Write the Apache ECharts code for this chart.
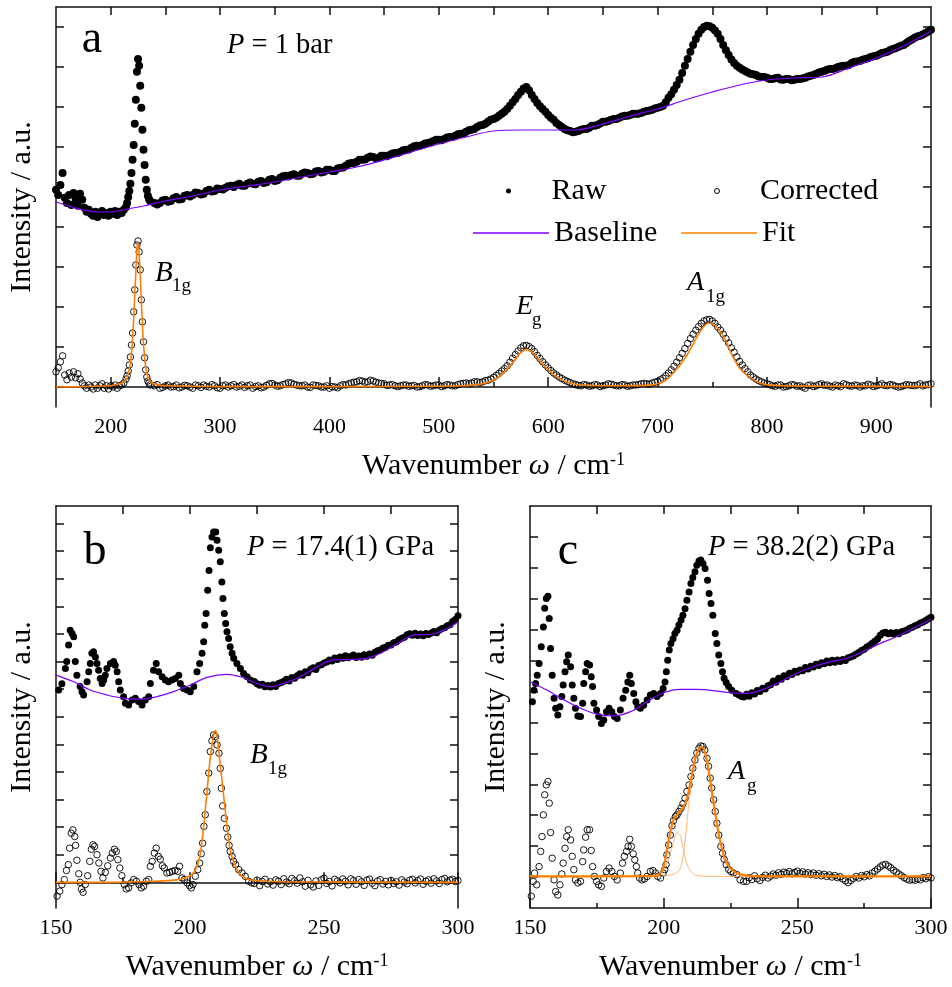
<!DOCTYPE html>
<html><head><meta charset="utf-8">
<script src="https://cdn.jsdelivr.net/npm/echarts@6/dist/echarts.min.js"></script>
<style>html,body{margin:0;padding:0;background:#fff}#c{width:952px;height:987px}</style>
</head><body><div id="c"></div>
<script>
// ---------------- DATA ----------------
// Panel a (P = 1 bar): [wavenumber, intensity] ; y in arbitrary units (ticks every 10)
const aRaw = [[150,49.3],[152,48],[154,50.5],[156,53.5],[158,47.3],[160,46],[162,48],[164,45.5],[166,48.5],[168,46.8],[170,45.3],[172,48.3],[174,46.8],[176,44.8],[178,43.8],[180,44.3],[182,43.3],[184,42.8],[186,43.8],[188,42.5],[190,43.3],[192,44],[194,43],[196,43.5],[198,42.8],[200,43.8],[202,43.3],[204,44],[206,43],[208,43.8],[210,43.5],[212,44.3],
[214,45],[215,46],[216,47.5],[217,49],[218,50.8],[219,53.5],[220,56.8],[221,60.5],[222,65.8],[223,71.8],[224,78.8],[225,82],[226,80.3],[227,75.3],[228,69.8],[229,64.3],[230,59.3],[231,55.5],[232,51.8],[233,49.3],[234,47.8],[235,47],[236,46.5],
[240,46],[245,46],[250,46.8],[255,46.5],[260,47.5],[265,47],[270,48],[275,48],[280,48.5],[285,48.3],[290,49.3],[295,49],[300,49.5],[305,49.8],[310,50.3],[315,50.5],[320,50.3],[325,50.8],[330,50.8],[335,51.3],[340,51],[345,51.8],[350,51.5],[355,52.3],[360,52.8],[365,53],[370,52.8],[375,53.3],[380,53.5],[385,53.3],[390,54],[395,53.8],[400,54.3],[405,54],[410,54.8],[415,55.3],[420,56],[425,56.3],[430,56.8],[435,57.3],[440,57.5],[445,57.3],[450,57.8],[455,58],[460,58.5],[465,58.8],[470,59.3],[475,59.8],[480,60.3],[485,60.5],[490,61],[495,61.5],[500,61.8],[505,62],[510,62.5],[515,62.8],[520,63.3],[525,63.8],[530,64.3],[535,65],[540,65.5],[545,66.3],[550,67],[555,67.8],[560,68.8],[565,70.3],[570,72],[575,73.8],[580,75],[585,73],[590,71],[595,69.5],[600,68],[605,66.8],[610,65.5],[615,64.5],[620,64],[625,63.8],[630,64.3],[635,64.5],[640,65.3],[645,65.5],[650,66.3],[655,66.5],[660,67],[665,67.3],[670,67.8],[675,68],[680,68.3],[685,68.5],[690,69],[695,69.3],[700,69.8],[705,70.3],[710,72.3],[715,74.3],[720,76.8],[725,80.3],[730,83.8],[735,87],[740,89.3],[745,90.3],[750,89.8],[755,88.3],[760,85.5],[765,83],[770,81],[775,79.8],[780,79],[785,78.3],[790,78],[795,77.5],[800,77.3],[805,77],[810,77.3],[815,76.8],[820,77],[825,76.8],[830,77],[835,77.3],[840,77.8],[845,78.3],[850,78.8],[855,79.3],[860,79.5],[865,80],[870,80.3],[875,80.5],[880,81.3],[885,81.5],[890,82],[895,82.5],[900,82.8],[905,83.5],[910,83.8],[915,84.5],[920,85],[925,85.5],[930,86.5],[935,87.3],[940,87.8],[945,88.5],[950,89.3]];
const aRawMid = [[242.5,45.6],[247.5,46.6],[252.5,46.3],[257.5,47.2],[262.5,46.9],[267.5,47.8],[272.5,47.6],[277.5,48.6],[282.5,48.1],[287.5,49],[292.5,48.9],[297.5,49.6],[302.5,49.4],[307.5,50.2],[312.5,50],[317.5,50.8],[322.5,50.3],[327.5,51.1],[332.5,50.7],[337.5,51.5],[342.5,51.2],[347.5,52],[352.5,51.7],[357.5,52.7],[362.5,52.6],[367.5,53.2],[372.5,52.8],[377.5,53.6],[382.5,53.2],[387.5,53.9],[392.5,53.6],[397.5,54.3],[402.5,54],[407.5,54.6],[412.5,54.9],[417.5,55.8],[422.5,56],[427.5,56.8],[432.5,56.9],[437.5,57.6],[442.5,57.2],[447.5,57.8],[452.5,57.7],[457.5,58.4],[462.5,58.5],[467.5,59.2],[472.5,59.4],[477.5,60.2],[482.5,60.3],[487.5,60.9],[492.5,61.2],[497.5,61.8],[502.5,61.7],[507.5,62.4],[512.5,62.5],[517.5,63.2],[522.5,63.4],[527.5,64.2],[532.5,64.5],[537.5,65.4],[542.5,65.8],[547.5,66.8],[552.5,67.3],[557.5,68.3],[562.5,69.5],[567.5,71.2],[572.5,73],[577.5,74.6],[582.5,74.2],[587.5,72],[592.5,70.2],[597.5,68.8],[602.5,67.3],[607.5,66],[612.5,65],[617.5,64.2],[622.5,63.7],[627.5,64],[632.5,64.5],[637.5,64.8],[642.5,65.3],[647.5,65.9],[652.5,66.3],[657.5,66.8],[662.5,67],[667.5,67.6],[672.5,67.8],[677.5,68.3],[682.5,68.3],[687.5,68.8],[692.5,69.1],[697.5,69.6],[702.5,70],[707.5,71.2],[712.5,73.2],[717.5,75.5],[722.5,78.5],[727.5,82],[732.5,85.5],[737.5,88.3],[742.5,90],[747.5,90.2],[752.5,89.1],[757.5,87],[762.5,84.2],[767.5,81.9],[772.5,80.3],[777.5,79.4],[782.5,78.6],[787.5,78.2],[792.5,77.6],[797.5,77.5],[802.5,77],[807.5,77.2],[812.5,76.9],[817.5,77],[822.5,76.7],[827.5,77],[832.5,77.1],[837.5,77.6],[842.5,78],[847.5,78.6],[852.5,79],[857.5,79.5],[862.5,79.7],[867.5,80.2],[872.5,80.3],[877.5,81],[882.5,81.4],[887.5,81.8],[892.5,82.2],[897.5,82.7],[902.5,83.1],[907.5,83.6],[912.5,84.2],[917.5,84.7],[922.5,85.3],[927.5,86],[932.5,86.9],[937.5,87.6],[942.5,88.1],[947.5,88.9]];

const aCorr = [[150,3.8],[152,4.8],[154,6.3],[156,7.8],[158,3],[160,1.8],[162,3.5],[164,2.5],[166,3.8],[168,2.3],[170,3.3],[172,2],[174,1],[176,0.3],[178,-0.3],[180,0.5],[182,0],[184,-0.5],[186,0.5],[188,-0.3],[190,0.3],[192,0.8],[194,-0.3],[196,0.3],[198,-0.5],[200,0.3],[202,0],[204,0.5],[206,-0.3],[208,0.3],[210,0.5],[212,1],
[214,2],[215,2.8],[216,4],[217,5.5],[218,7.5],[219,10.5],[220,13.5],[221,18.8],[222,24.3],[223,30.5],[224,35.5],[225,36.5],[226,33.8],[227,29.3],[228,21.8],[229,16.3],[230,11.3],[231,7.3],[232,4.3],[233,2.5],[234,1.5],[235,1],[236,0.5],
[240,0.3],[245,-0.3],[250,0.3],[255,0],[260,0.5],[265,0],[270,0.3],[275,-0.3],[280,0.3],[285,0.5],[290,0],[295,0.3],[300,-0.3],[305,0.5],[310,0.3],[315,0],[320,0.5],[325,0.3],[330,-0.3],[335,0.3],[340,0],[345,0.8],[350,0.5],[355,0.3],[360,0.8],[365,1],[370,0.5],[375,0.3],[380,0],[385,0.5],[390,0.3],[395,0],[400,-0.3],[405,0],[410,0.3],[415,0.5],[420,1],[425,1.3],[430,1.5],[435,1.3],[440,1.5],[445,1],[450,0.8],[455,0.5],[460,0.3],[465,0.3],[470,0.5],[475,0.3],[480,0],[485,0.3],[490,0.5],[495,0.3],[500,0.5],[505,0.3],[510,0.5],[515,0.3],[520,0.8],[525,1],[530,1],[535,1.3],[540,1.3],[545,1.7],[550,2.4],[555,3.4],[560,4.6],[565,6.2],[570,8.1],[575,9.8],[580,10.4],[585,9.6],[590,7.9],[595,6.3],[600,4.8],[605,3.5],[610,2.5],[615,1.7],[620,1.1],[625,0.6],[630,0.3],[635,0.5],[640,0.3],[645,0.5],[650,0.3],[655,0.8],[660,0.5],[665,0.3],[670,0.5],[675,0.3],[680,0.5],[685,0.8],[690,0.8],[695,1],[700,1.4],[705,2.2],[710,3.5],[715,5.2],[720,7.3],[725,9.6],[730,12.1],[735,14.2],[740,15.9],[745,16.8],[750,16.5],[755,15],[760,13.2],[765,11],[770,8.7],[775,6.4],[780,4.6],[785,3],[790,2],[795,1.3],[800,0.8],[805,0.3],[810,0.5],[815,0],[820,0.3],[825,0.5],[830,0.3],[835,-0.3],[840,0.5],[845,0.3],[850,0.8],[855,0.5],[860,0],[865,0.3],[870,0.8],[875,0.3],[880,0.5],[885,0],[890,0.3],[895,0.5],[900,0.3],[905,0.8],[910,0.3],[915,0.5],[920,0],[925,0.3],[930,0.5],[935,0.3],[940,0.8],[945,0.5],[950,0.8]];
const aCorrMid = [[242.5,0.6],[247.5,-0.1],[252.5,0.5],[257.5,0.1],[262.5,-0.2],[267.5,0.4],[272.5,0],[277.5,0.5],[282.5,-0.1],[287.5,0.2],[292.5,0.6],[297.5,-0.2],[302.5,0.3],[307.5,0],[312.5,0.6],[317.5,0.2],[322.5,-0.1],[327.5,0.5],[332.5,0.1],[337.5,-0.2],[342.5,0.4],[347.5,0.9],[352.5,0.2],[357.5,0.6],[362.5,1.1],[367.5,0.7],[372.5,0.3],[377.5,0.5],[382.5,-0.1],[387.5,0.4],[392.5,0],[397.5,0.3],[402.5,0.1],[407.5,-0.2],[412.5,0.6],[417.5,0.8],[422.5,1.2],[427.5,1.6],[432.5,1.2],[437.5,1.7],[442.5,1.2],[447.5,0.9],[452.5,0.4],[457.5,0.6],[462.5,0.1],[467.5,0.5],[472.5,0.2],[477.5,0.4],[482.5,0.1],[487.5,0.6],[492.5,0.2],[497.5,0.5],[502.5,0.1],[507.5,0.6],[512.5,0.3],[517.5,0.6],[522.5,0.9],[527.5,0.8],[532.5,1.3],[537.5,1.1],[542.5,1.6],[547.5,2],[552.5,2.9],[557.5,4],[562.5,5.3],[567.5,7.2],[572.5,9],[577.5,10.3],[582.5,10.1],[587.5,8.8],[592.5,7.1],[597.5,5.5],[602.5,4.1],[607.5,3],[612.5,2.1],[617.5,1.4],[622.5,0.8],[627.5,0.4],[632.5,0.6],[637.5,0.2],[642.5,0.6],[647.5,0.1],[652.5,0.5],[657.5,0.7],[662.5,0.3],[667.5,0.6],[672.5,0.2],[677.5,0.5],[682.5,0.6],[687.5,0.9],[692.5,0.7],[697.5,1.2],[702.5,1.8],[707.5,2.8],[712.5,4.3],[717.5,6.2],[722.5,8.4],[727.5,10.9],[732.5,13.2],[737.5,15.1],[742.5,16.5],[747.5,16.9],[752.5,15.9],[757.5,14.2],[762.5,12.1],[767.5,9.8],[772.5,7.5],[777.5,5.5],[782.5,3.8],[787.5,2.5],[792.5,1.6],[797.5,1],[802.5,0.6],[807.5,0.2],[812.5,0.5],[817.5,0.1],[822.5,0.6],[827.5,0.2],[832.5,0],[837.5,0.4],[842.5,0.1],[847.5,0.6],[852.5,0.4],[857.5,0.2],[862.5,0.5],[867.5,0.1],[872.5,0.6],[877.5,0.2],[882.5,0.4],[887.5,0.3],[892.5,0.7],[897.5,0.1],[902.5,0.5],[907.5,0.4],[912.5,0.6],[917.5,0.2],[922.5,0.1],[927.5,0.6],[932.5,0.4],[937.5,0.5],[942.5,0.3],[947.5,0.6]];

const aBase = [[150,46.25],[165,45],[175,44.25],[190,43.75],[200,43.75],[215,44.5],[230,45.25],[250,46.5],[275,47.75],[300,49.25],[325,50.25],[350,51.25],[375,52.5],[400,53.75],[425,55],[450,56.75],[475,58.75],[500,60.75],[525,62.5],[550,64],[575,64.25],[600,64.25],[625,64.25],[650,65.75],[675,67.75],[700,69.5],[725,71.75],[750,73.75],[775,75.5],[800,76.75],[825,77.25],[850,77.5],[875,79.75],[900,82.25],[925,85.25],[950,89]];

const aFit = [[150,0],[200,0.3],[205,0.6],[210,1],[214,2],[216,3.3],[218,6],[219,8.5],[220,12],[221,17],[222,23],[223,29],[224,34],[224.7,36],[225.5,35],[226.5,31],[227.5,25],[228.5,18.5],[229.5,13],[230.5,9],[232,5],[234,2.5],[237,1.2],[242,0.6],[250,0.3],[300,0.1],[400,0.1],[500,0.2],[520,0.3],[535,0.6],[545,1.2],[553,2.2],[560,3.8],[565,5.3],[570,7],[575,8.6],[580,9.4],[585,8.8],[590,7.3],[595,5.7],[600,4.3],[605,3.1],[612,1.9],[620,1],[630,0.5],[650,0.3],[690,0.4],[700,0.8],[707,1.6],[712,2.8],[717,4.3],[722,6],[727,8],[732,10.5],[737,13],[742,15],[747,16],[752,15.4],[757,14],[762,11.7],[768,8],[773,5.5],[778,3.8],[785,2.3],[792,1.2],[800,0.6],[815,0.3],[850,0.2],[950,0.1]];

// Panel b (P = 17.4(1) GPa)
const bRaw = [[151,69.7],[152.2,72],[153.5,77.5],[154,80],[154.7,86],[155.3,91.4],[156,90.2],[156.6,89],[157.2,80],[157.8,75.1],[159,71],[159.7,69.1],[160.3,67.9],[161.6,72.7],[162.2,76.3],[162.8,79.3],[163.4,83],[164,83.6],[164.7,81.7],[165.3,79.3],[165.9,76.9],[166.5,73.9],[167.2,72.1],[167.8,73.3],[168.4,75.1],[169,77.5],[170.3,79.3],[171.5,80],[172.1,78.7],[172.8,76.3],[173.4,72.7],[174,69.7],[175.2,67.3],[175.9,64.9],[177.1,64.3],[178.4,66.1],[179.6,66.7],[180.8,65.5],[182.1,64.3],[183.3,66.1],[184.6,67.3],[185.2,72.1],[186.4,76.9],[187.4,79.3],[188.3,76.3],[189.6,74.5],[190.8,73.3],[192,72.7],[193.3,73.3],[194.5,73.9],[195.8,75.1],[196.4,72.1],[197.6,70.3],[198.9,69.7],[200.1,69.1],[201.4,71],[202.6,76.3],[203.6,79.3],[204.5,83],[205.1,87.2],[205.5,93.2],[206,97.4],[206.6,105.9],[207.1,113],[207.6,121.3],[208.2,125.2],[208.8,127],[209.6,127],[210.1,124],[210.7,120.4],[211.3,116.2],[211.9,108.9],[212.3,102.9],[212.8,97.4],[213.3,93.8],[213.8,90.8],[214.4,88.4],[215,85.4],[215.7,83],[216.3,81.2],[217.5,79.3],[218.8,77.5],[220,75.7],[221.3,74.5],[222.5,73.3],
[224,72.8],[225,72.0],[226,71.4],[227,71.8],[228,70.9],[229,71.3],[230,70.8],[231,71.6],[232,71.0],[233,72.1],[234,72.4],[235,72.9],[236,73.6],[237,73.0],[238,74.2],[239,74.0],[240,74.9],[241,75.6],[242,75.1],[243,76.3],[244,76.0],[245,77.2],[246,77.8],[247,77.1],[248,78.6],[249,78.9],[250,79.5],[251,79.9],[252,80.6],[253,80.2],[254,81.3],[255,80.8],[256,81.7],[257,81.2],[258,82.1],[259,81.4],[260,81.9],[261,82.4],[262,81.5],[263,82.0],[264,81.6],[265,82.5],[266,81.9],[267,82.8],[268,82.3],[269,83.4],[270,83.9],[271,84.2],[272,84.9],[273,85.2],[274,85.9],[275,86.0],[276,86.8],[277,87.1],[278,87.9],[279,88.5],[280,88.8],[281,89.7],[282,90.1],[283,89.6],[284,90.3],[285,89.5],[286,90.0],[287,89.4],[288,90.2],[289,89.8],[290,90.4],[291,90.9],[292,90.5],[293,91.4],[294,92.0],[295,92.3],[296,93.0],[297,93.4],[298,94.5],[299,95.3],[300,96.6]];

const bCorr = [[150.4,-5],[151.4,-3.2],[152.2,-0.8],[153.1,1],[153.9,4.3],[154.6,6.4],[155.1,12.4],[155.7,17.8],[156.3,19],[157,16.6],[157.3,13.4],[157.8,8],[158.5,3.1],[159,0],[159.5,-2.4],[160.1,-3.6],[160.9,-0.8],[161.8,2.4],[162.6,7.6],[163.2,12],[163.8,13.6],[164.4,13],[165.3,10],[166,7],[166.8,4],[167.5,1.6],[168.4,3.6],[169.3,6],[170.3,8.8],[171,10.6],[171.8,12],[172.5,11.2],[173.1,8.2],[173.8,5.2],[174.6,2.4],[175.5,-0.8],[176.2,-2.4],[177.1,-2],[178,-0.2],[179,1],[180,0.4],[181,-0.8],[181.8,-2],[182.7,-1.4],[183.7,0.4],[184.6,1],[185.2,5.8],[185.9,7.6],[186.7,10.6],[187.4,12.4],[188.2,9.4],[188.9,8.4],[189.7,6],[190.4,5.2],[191.4,3.4],[192.4,3.6],[193.4,4],[194.4,4.3],[195.4,4],[196.1,5.8],[197,1.6],[197.9,1],[198.9,-0.2],[199.8,-1.2],[200.5,-2],[201.1,-0.8],[202,2.2],[202.9,4.6],[203.6,7],[204.2,10.4],[204.7,14.2],[205.2,20.3],[205.7,24.5],[206.3,32.9],[207,39.6],[207.6,47.4],[208.2,51.3],[208.8,53.4],[209.5,52.8],[210.1,49.8],[210.8,46.8],[211.3,41.3],[211.7,34.1],[212.2,27.7],[212.8,23.2],[213.6,19.6],[214.1,16.4],[214.6,13.4],[215,11.2],[215.7,9.4],[216.3,7.6],[217,6.4],[218.2,4.6],[219.4,3.4],[220.6,2.2],[221.9,0.4],[223,-0.2],
[224,-0.4],[225,0.8],[226,-1.2],[227,0.3],[228,1.1],[229,-0.6],[230,0.2],[231,-1.0],[232,0.9],[233,0.4],[234,-0.8],[235,1.3],[236,0.1],[237,-0.5],[238,1.4],[239,0.6],[240,-0.3],[241,1.6],[242,0.2],[243,-1.4],[244,0.7],[245,-0.9],[246,-1.7],[247,0.5],[248,-1.1],[249,0.9],[250,1.5],[251,-0.4],[252,0.3],[253,-1.3],[254,1.1],[255,0.5],[256,-0.2],[257,1.2],[258,0.4],[259,-0.9],[260,1.3],[261,0.6],[262,-0.7],[263,1.0],[264,0.2],[265,-1.1],[266,0.8],[267,1.2],[268,-0.3],[269,-1.2],[270,0.5],[271,1.0],[272,-0.6],[273,0.3],[274,-0.9],[275,0.7],[276,-0.4],[277,0.2],[278,-1.0],[279,0.9],[280,0.1],[281,-0.5],[282,0.8],[283,1.1],[284,-0.2],[285,0.6],[286,1.2],[287,-0.7],[288,0.4],[289,0.9],[290,-0.3],[291,1.3],[292,0.5],[293,-0.4],[294,1.0],[295,1.4],[296,0.2],[297,0.8],[298,1.1],[299,0.3],[300,0.7]];

const bBase = [[150,75.1],[156.6,72.7],[162.8,69.7],[169,67.9],[175.2,66.7],[181.5,66.4],[187.7,67.3],[193.9,69.1],[200.1,71.5],[206.3,74.3],[213.8,75.4],[218.8,74.5],[225,72.1],[230,70.9],[234.9,72.1],[241.2,74.5],[247.4,78.1],[253.6,80.6],[259.8,80.8],[266,81.2],[272.2,83.6],[278.5,87.2],[283.4,89.6],[290.9,90],[295.9,92],[300,94.4]];

const bFit = [[150,0],[170,0],[185,0.3],[195,0.9],[198,1.6],[200.7,2.8],[202.6,5.8],[203.9,10.6],[205.1,20.3],[206.3,32.3],[207.6,45.6],[208.8,53.4],[209.5,55],[210.1,52.8],[211.3,42.5],[212.6,31],[213.8,20.3],[215,11.8],[216.9,5.8],[218.8,2.8],[221.3,1.2],[225,0.6],[235,0.2],[300,0]];

// Panel c (P = 38.2(2) GPa)
const cRaw = [[150.9,66.7],[151.5,70.4],[152.1,72.6],[152.7,75.3],[153.4,79.1],[154.2,84.5],[155,90.9],[155.5,96.9],[156.1,100.1],[156.7,100.8],[157.2,93.6],[157.7,83.9],[158.3,75.3],[159,67.8],[159.6,64.6],[160.4,62.4],[161.2,65.1],[161.9,68.4],[162.4,72.1],[163.1,76.4],[163.7,79.6],[164.3,81.8],[165.2,78],[165.8,72.1],[166.4,67.8],[167,64.6],[167.9,62.1],[168.9,61.9],[169.7,66.2],[170.1,72.6],[170.8,76.4],[171.4,79.1],[172.3,78.6],[172.9,74.8],[173.4,71.6],[173.9,66.2],[174.9,64],[175.7,61.9],[176.7,59.7],[177.6,60.8],[178.6,63.5],[179.6,64.6],[180.6,63.5],[181.6,61.9],[182.6,61.3],[183.8,64],[184.8,67.8],[185.8,70.4],[186.6,73.1],[187.3,75.3],[187.9,72.6],[188.8,69.4],[189.6,66.7],[190.3,65.1],[191.3,64.6],[192.5,65.6],[193.8,67.3],[195,68.9],[196.3,69.4],[197.5,68.4],[198.8,69.4],[199.8,71],[200.5,73.1],[201,76.4],[201.5,80.1],[202.1,83.4],[202.7,85.5],[203.5,87.1],[204.2,88.8],[205,89.8],[205.7,91.5],[206.5,93.1],[207.2,94.7],[208,96.8],[208.7,99.5],[209.5,102.2],[210.2,104.9],[210.9,106.9],[211.7,108.7],[212.4,110.8],[213.2,112.2],[213.9,112.5],[214.7,111.4],[215.5,109.8],[216.4,106],[217,101.7],[217.7,98.5],[218.4,94.7],[219.3,88.8],[219.9,85.5],[220.6,81.8],[221.4,79.1],[222,76.4],[222.6,74.3],[223.4,72.9],[224.3,71.6],[225.5,70.4],[227.1,69.4],[228.2,68.9],[229.2,68.4],
[230,68.2],[231,69.1],[232,68.5],[233,69.6],[234,69.2],[235,70.3],[236,70.0],[237,71.1],[238,70.8],[239,71.9],[240,72.2],[241,73.4],[242,73.0],[243,74.3],[244,74.0],[245,75.1],[246,74.8],[247,75.9],[248,75.5],[249,76.6],[250,76.2],[251,77.0],[252,76.7],[253,77.8],[254,77.3],[255,78.2],[256,77.9],[257,78.8],[258,78.4],[259,79.3],[260,79.0],[261,79.9],[262,79.3],[263,80.1],[264,79.5],[265,80.2],[266,79.7],[267,80.4],[268,80.0],[269,80.9],[270,81.2],[271,81.6],[272,82.1],[273,82.6],[274,83.3],[275,83.7],[276,84.4],[277,84.9],[278,85.6],[279,86.3],[280,87.0],[281,88.2],[282,88.9],[283,89.2],[284,88.7],[285,89.0],[286,88.6],[287,89.1],[288,88.7],[289,89.3],[290,89.6],[291,89.9],[292,90.5],[293,90.8],[294,91.3],[295,91.6],[296,92.2],[297,92.5],[298,93.0],[299,93.5],[300,94.0]];

const cCorr = [[150.5,3.8],[151.2,8.6],[151.7,11.3],[152.5,7.5],[153.4,13.4],[154,18.3],[154.5,23.1],[155,30.1],[155.5,36.6],[156.1,39.8],[156.7,40.9],[157.2,33.9],[157.7,24.4],[158.3,16.1],[159,9.1],[159.6,5.3],[160.4,4.2],[161.2,7.5],[161.9,11],[162.4,14.5],[163.1,19.3],[163.7,23.1],[164.3,25.3],[165.2,22],[165.8,16.7],[166.4,12.4],[167,9.1],[167.9,8.1],[168.9,8.6],[169.7,15],[170.1,18.8],[170.8,22.9],[171.4,25.3],[172.3,25.3],[172.9,18.6],[173.4,13.4],[174.1,10.2],[174.9,8.6],[175.7,7.5],[176.7,7],[177.6,9.7],[178.6,11.8],[179.6,12.9],[180.6,11.8],[181.6,10.2],[182.6,9.1],[183.8,11.3],[184.6,14.5],[185.3,16.7],[186.1,18.3],[186.7,19.9],[187.3,22.2],[187.9,19.9],[188.6,17.5],[189.2,15.6],[189.8,13.4],[190.3,11.3],[191,9.7],[191.9,9.1],[192.8,9.4],[193.8,10.2],[195,11.8],[196,12.1],[196.9,11.3],[197.8,10.2],[198.8,9.7],[199.8,11.3],[200.4,12.4],[200.9,14],[201.2,17.2],[201.9,20.4],[202.5,23.6],[203.1,26.6],[203.7,28.3],[204.4,29.6],[205,30.1],[205.7,31.2],[206.5,32.3],[207.2,33.7],[208,35.5],[208.7,37.7],[209.5,39.8],[210.2,42.5],[210.9,45.2],[211.7,47.9],[212.4,50.1],[213.2,51.7],[213.9,52.4],[214.7,52.2],[215.4,51.1],[216.2,48.4],[216.8,45.8],[217.4,42],[218,38.8],[218.7,35],[219.3,31.2],[219.9,27.4],[220.6,23.6],[221.4,19.9],[222,17.7],[222.6,15.8],[223.4,14],[224.3,12.5],[225.1,11.8],[226.1,11.3],[227.4,10.8],[228.6,9.1],[229.9,8.6],
[231,8.6],[232,9.8],[233,9.2],[234,10.4],[235,9.5],[236,8.9],[237,9.9],[238,10.6],[239,9.7],[240,10.3],[241,11.0],[242,10.6],[243,11.4],[244,10.9],[245,11.6],[246,11.2],[247,11.8],[248,11.1],[249,11.5],[250,11.9],[251,11.2],[252,11.7],[253,11.0],[254,11.4],[255,10.8],[256,11.3],[257,10.6],[258,11.1],[259,10.4],[260,10.9],[261,10.2],[262,10.7],[263,10.0],[264,10.5],[265,9.8],[266,10.1],[267,9.4],[268,8.8],[269,8.2],[270,8.9],[271,9.6],[272,10.2],[273,9.7],[274,10.5],[275,10.1],[276,10.8],[277,10.4],[278,11.3],[279,11.9],[280,12.6],[281,13.3],[282,13.9],[283,14.1],[284,13.6],[285,13.0],[286,12.2],[287,11.6],[288,11.0],[289,10.4],[290,9.8],[291,9.3],[292,9.0],[293,9.2],[294,9.0],[295,9.4],[296,9.1],[297,9.8],[298,9.5],[299,10.1],[300,9.7]];

const cBase = [[150.2,73.1],[156.5,70.4],[162.7,67.3],[168.9,64.6],[175.1,62.7],[181.3,62.1],[187.6,63.5],[193.8,66.7],[200,69.6],[206.2,70.7],[212.4,70.7],[218.7,70.3],[224.9,69.6],[231.1,69.4],[237.3,70.7],[243.5,73.1],[249.8,75.9],[256,78],[262.2,79.6],[268.4,80.7],[274.6,82.9],[280.8,85.5],[287.1,87.7],[293.3,90.4],[299.8,93.3]];

const cFit = [[150,10.2],[197.5,10.4],[198.8,11.3],[200,13.4],[201.2,18.8],[202.5,24.7],[203.7,28.5],[205,30.1],[206.2,31.2],[207.5,32.8],[208.7,35.5],[210,40.4],[211.2,45.8],[212.4,50.1],[213.7,51.9],[214.3,52],[215.5,50.1],[216.8,44.7],[218,37.7],[219.3,30.7],[220.5,24.2],[221.8,19.3],[223,15.5],[224.9,12.9],[227.4,11.3],[231.1,10.5],[236.1,10.2],[300,10.2]];
const cPeak1 = [[150,10.2],[194,10.2],[196,10.4],[198,11],[200,12.5],[201.5,15],[203,19],[204,22.5],[205,24.4],[206,23.8],[207,20.5],[208,16.5],[209,13.5],[210.5,11.5],[212,10.6],[215,10.3],[220,10.2],[300,10.2]];
const cPeak2 = [[150,10.2],[198,10.3],[201,10.5],[203,10.8],[205,11.5],[206.2,12.8],[207.2,16.5],[208.2,23],[209.3,33],[210.3,40.5],[211.3,45.5],[212.4,49.5],[213.5,51.5],[214.3,52],[215.5,50.1],[216.8,44.7],[218,37.7],[219.3,30.7],[220.5,24.2],[221.8,19.3],[223,15.5],[224.9,12.9],[227.4,11.3],[231,10.5],[236,10.2],[300,10.2]];

// Tick values
const aXLabels = [200,300,400,500,600,700,800,900];
const aXMinor = [250,350,450,550,650,750,850];
const aXTop = [200,250,300,350,400,450,500,550,600,650,700,750,800,850,900];
const aYTicks = [0,10,20,30,40,50,60,70,80,90];
const bcXLabels = [150,200,250,300];
const bcXMinor = [175,225,275];
const bcXTop = [175,200,225,250,275];
const bYTicks = [0,10,20,30,40,50,60,70,80,90,100,110,120,130];
const cYTicks = [10,20,30,40,50,60,70,80,90,100,110,120];

// ---------------- CHART ----------------
const FS = 'Liberation Serif';
const AX = '#111';
const PURPLE = '#7f00ff', ORANGE = '#ff7f00';
const chart = echarts.init(document.getElementById('c'), null, {renderer: 'canvas'});

const grids = [
  {left: 56, top: 7, width: 875, height: 400},
  {left: 56, top: 506, width: 402, height: 402},
  {left: 530, top: 506, width: 401, height: 402}
];
const xr = [[150, 950], [150, 300], [150, 300]];
const yr = [[-5, 95], [-9.3, 136.4], [0, 130]];
const labelsX = [aXLabels, bcXLabels, bcXLabels];
const minorX = [aXMinor, bcXMinor, bcXMinor];
const topX = [aXTop, bcXTop, bcXTop];
const ticksY = [aYTicks, bYTicks, cYTicks];

const xAxis = [], yAxis = [];
for (let g = 0; g < 3; g++) {
  const base = {gridIndex: g, type: 'value', min: xr[g][0], max: xr[g][1], splitLine: {show: false}};
  xAxis.push(Object.assign({}, base, {
    position: 'bottom',
    axisLine: {show: true, lineStyle: {color: AX, width: 1.5}},
    axisTick: {show: true, inside: true, length: 10, customValues: labelsX[g], lineStyle: {color: AX, width: 1.5}},
    axisLabel: {show: true, customValues: labelsX[g], fontFamily: FS, fontSize: 22, color: '#000', margin: 9}
  }));
  xAxis.push(Object.assign({}, base, {
    position: 'bottom',
    axisLine: {show: false},
    axisTick: {show: true, inside: true, length: 5, customValues: minorX[g], lineStyle: {color: AX, width: 1.5}},
    axisLabel: {show: false}
  }));
  xAxis.push(Object.assign({}, base, {
    position: 'top',
    axisLine: {show: true, lineStyle: {color: AX, width: 1.5}},
    axisTick: {show: true, inside: true, length: 8, customValues: topX[g], lineStyle: {color: AX, width: 1.5}},
    axisLabel: {show: false}
  }));
  ['left', 'right'].forEach(pos => {
    yAxis.push({
      gridIndex: g, type: 'value', position: pos, min: yr[g][0], max: yr[g][1],
      splitLine: {show: false},
      axisLine: {show: true, lineStyle: {color: AX, width: 1.5}},
      axisTick: {show: true, inside: true, length: 8, customValues: ticksY[g], lineStyle: {color: AX, width: 1.5}},
      axisLabel: {show: false}
    });
  });
}

function rawSeries(data, g, size) {
  return {name: 'Raw', type: 'scatter', xAxisIndex: g * 3, yAxisIndex: g * 2, data: data,
    symbol: 'circle', symbolSize: size, itemStyle: {color: '#000', opacity: 1}, silent: true, z: 2};
}
function corrSeries(data, g, size) {
  return {name: 'Corrected', type: 'scatter', xAxisIndex: g * 3, yAxisIndex: g * 2, data: data,
    symbol: 'circle', symbolSize: size,
    itemStyle: {color: 'rgba(0,0,0,0)', borderColor: '#000', borderWidth: 0.9, opacity: 1}, silent: true, z: 2};
}
function lineSeries(name, data, g, color, width, z) {
  return {name: name, type: 'line', xAxisIndex: g * 3, yAxisIndex: g * 2, data: data,
    showSymbol: false, symbol: 'none', smooth: 0.35, lineStyle: {color: color, width: width},
    itemStyle: {color: color}, silent: true, z: z || 3};
}

const series = [
  rawSeries(aRaw.concat(aRawMid), 0, 8), corrSeries(aCorr.concat(aCorrMid), 0, 6.5),
  lineSeries('Baseline', aBase, 0, PURPLE, 1.2), lineSeries('Fit', aFit, 0, ORANGE, 1.6),
  rawSeries(bRaw, 1, 7), corrSeries(bCorr, 1, 6.5),
  lineSeries('Baseline', bBase, 1, PURPLE, 1.2), lineSeries('Fit', bFit, 1, ORANGE, 1.6),
  rawSeries(cRaw, 2, 7), corrSeries(cCorr, 2, 6.5),
  lineSeries('Baseline', cBase, 2, PURPLE, 1.2),
  lineSeries('Peak 1', cPeak1, 2, '#ffa550', 0.8), lineSeries('Peak 2', cPeak2, 2, '#ffa550', 0.8),
  lineSeries('Fit', cFit, 2, ORANGE, 2.2, 4)
];

const legTxt = {fontFamily: FS, fontSize: 30, color: '#000'};
function leg(name, icon, left, top, h, style) {
  const d = {name: name, icon: icon};
  if (style) d.itemStyle = style;
  return {data: [d], left: left, top: top, orient: 'horizontal', itemWidth: 76, itemHeight: h,
    selectedMode: false, textStyle: legTxt, padding: 0};
}
const legend = [
  leg('Raw', 'circle', 506, 176, 5, {color: '#000'}),
  leg('Corrected', 'circle', 714, 176, 5, {color: 'rgba(0,0,0,0)', borderColor: '#000', borderWidth: 1}),
  leg('Baseline', 'rect', 473, 218, 1.5),
  leg('Fit', 'rect', 681, 218, 1.5)
];

function T(x, y, text, size, align, extra) {
  const st = {text: text, x: 0, y: 0, fontFamily: FS, fontSize: size, fill: '#000',
    align: align || 'left', verticalAlign: 'middle', textAlign: align || 'left', textVerticalAlign: 'middle'};
  Object.assign(st, extra || {});
  return {type: 'text', x: x, y: y, style: st, silent: true, z: 10};
}
const it = (s) => ({fontFamily: FS, fontSize: s, fontStyle: 'italic'});
const rm = (s) => ({fontFamily: FS, fontSize: s});
const pRich = {rich: {i: it(28.5), r: rm(28.5)}};
const xTitle = (cx, y) => T(cx, y, '{r|Wavenumber }{i|ω}{r| / cm}{s|-1}', 30, 'center',
  {rich: {r: rm(30), i: it(30), s: {fontFamily: FS, fontSize: 18, verticalAlign: 'top', lineHeight: 30}}});
const yTitle = (cx, cy) => Object.assign(T(cx, cy, 'Intensity / a.u.', 30, 'center'), {rotation: Math.PI / 2});

const graphic = [
  T(92, 40, 'a', 46, 'center'),
  T(95, 552, 'b', 46, 'center'),
  T(568, 552, 'c', 46, 'center'),
  T(227, 46, '{i|P}{r| = 1 bar}', 28.5, 'left', pRich),
  T(247, 548, '{i|P}{r| = 17.4(1) GPa}', 28.5, 'left', pRich),
  T(708, 548, '{i|P}{r| = 38.2(2) GPa}', 28.5, 'left', pRich),
  T(155, 273, 'B', 29, 'left', {fontStyle: 'italic'}), T(172, 286, '1g', 19, 'left'),
  T(516, 307, 'E', 28, 'left', {fontStyle: 'italic'}), T(532, 320, 'g', 19, 'left'),
  T(687, 283, 'A', 28, 'left', {fontStyle: 'italic'}), T(706, 297, '1g', 19, 'left'),
  T(250, 755, 'B', 29, 'left', {fontStyle: 'italic'}), T(268, 769, '1g', 19, 'left'),
  T(728, 772, 'A', 28, 'left', {fontStyle: 'italic'}), T(747, 786, 'g', 19, 'left'),
  xTitle(493.5, 466), xTitle(257, 967), xTitle(730.5, 967),
  yTitle(22, 207), yTitle(22, 707), yTitle(496, 707)
];

chart.setOption({
  animation: false,
  backgroundColor: '#fff',
  grid: grids, xAxis: xAxis, yAxis: yAxis,
  legend: legend, series: series, graphic: graphic
});
</script></body></html>
